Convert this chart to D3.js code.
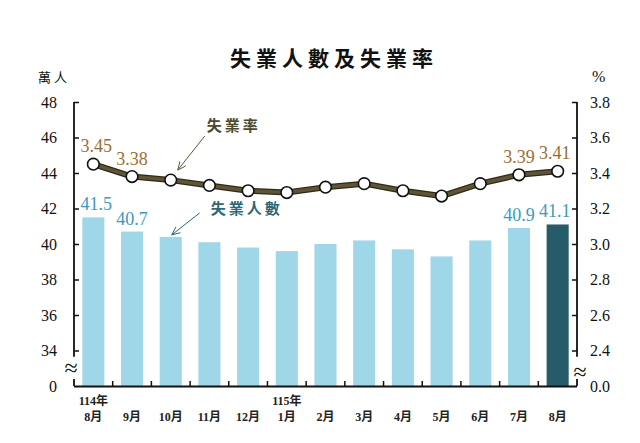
<!DOCTYPE html>
<html><head><meta charset="utf-8">
<script src="https://cdn.jsdelivr.net/npm/d3@7"></script>
<style>
html,body{margin:0;padding:0;background:#fff;}
svg{display:block;}
.sf{font-family:"Liberation Serif","Times New Roman","DejaVu Serif","Noto Sans CJK TC",serif;}
.cj{font-family:"Noto Sans CJK TC","Noto Sans CJK SC",sans-serif;}
</style></head>
<body>
<svg id="chart" width="640" height="443"></svg>
<script>
// ---- data ----
const months = ["8月","9月","10月","11月","12月","1月","2月","3月","4月","5月","6月","7月","8月"];
const years  = ["114年","","","","","115年","","","","","","",""];
const unemployed = [41.5,40.7,40.4,40.1,39.8,39.6,40.0,40.2,39.7,39.3,40.2,40.9,41.1];
const rate = [3.45,3.38,3.36,3.33,3.30,3.29,3.32,3.34,3.30,3.27,3.34,3.39,3.41];
const labeledIdx = [0,1,11,12];
const leftTicks = [32,34,36,38,40,42,44,46,48];
const leftTickLabels = ["0","34","36","38","40","42","44","46","48"];
const rightTicks = [2.2,2.4,2.6,2.8,3.0,3.2,3.4,3.6,3.8];
const rightTickLabels = ["0.0","2.4","2.6","2.8","3.0","3.2","3.4","3.6","3.8"];

const svg = d3.select("#chart");
const L = 74, R = 577, T = 102, B = 386;

const x = d3.scaleBand().domain(d3.range(months.length)).range([L, R]).paddingInner(0.43).paddingOuter(0.215);
const yL = d3.scaleLinear().domain([32,48]).range([B, T]);
const yR = d3.scaleLinear().domain([2.2,3.8]).range([B, T]);
const xc = i => x(i) + x.bandwidth()/2;
const nudge = i => i === 0 ? 3 : (i === months.length - 1 ? -3 : 0);

// title
svg.append("text").attr("class","cj").attr("x", 334).attr("y", 66).attr("text-anchor","middle")
  .attr("font-weight","bold").attr("font-size", 21)
  .attr("letter-spacing", 5).attr("fill","#111").text("失業人數及失業率");

// units
svg.append("text").attr("class","cj").attr("x", 38).attr("y", 82).attr("font-size", 13)
  .attr("letter-spacing", 3).attr("fill","#111").text("萬人");
svg.append("text").attr("class","sf").attr("x", 592).attr("y", 82).attr("font-size", 16)
  .attr("fill","#111").text("%");

// bars
svg.append("g").selectAll("rect").data(unemployed).join("rect")
  .attr("x", (d,i) => x(i)).attr("width", x.bandwidth())
  .attr("y", d => yL(d)).attr("height", d => B - yL(d))
  .attr("fill", (d,i) => i === unemployed.length-1 ? "#265b69" : "#9fd6e8");

// left axis
const axL = svg.append("g").attr("transform", `translate(${L},0)`)
  .call(d3.axisLeft(yL).tickValues(leftTicks).tickSizeInner(-5).tickSizeOuter(0).tickPadding(17)
    .tickFormat((d,i) => leftTickLabels[i]));
axL.attr("font-family", null).attr("font-size", null);
axL.select(".domain").remove();
axL.selectAll("line").attr("stroke","#111").attr("stroke-width",1.5);
axL.selectAll("text").attr("class","sf").attr("font-size", 16).attr("fill","#111");
axL.selectAll(".tick").filter(d => d === 32).select("line").remove();

// right axis
const axR = svg.append("g").attr("transform", `translate(${R},0)`)
  .call(d3.axisRight(yR).tickValues(rightTicks).tickSizeInner(-5).tickSizeOuter(0).tickPadding(13)
    .tickFormat((d,i) => rightTickLabels[i]));
axR.attr("font-family", null).attr("font-size", null);
axR.select(".domain").remove();
axR.selectAll("line").attr("stroke","#111").attr("stroke-width",1.5);
axR.selectAll("text").attr("class","sf").attr("font-size", 16).attr("fill","#111");
axR.selectAll(".tick").filter(d => Math.abs(d-2.2) < 1e-9).select("line").remove();

// axis lines with breaks
[[L, yL(48), yL(33.65)], [L, yL(32.4), B], [R, yL(48), yL(33.65)], [R, yL(32.4), B]].forEach(s => {
  svg.append("line").attr("x1", s[0]).attr("x2", s[0]).attr("y1", s[1]).attr("y2", s[2])
    .attr("stroke","#111").attr("stroke-width",1.8);
});
svg.append("text").attr("class","sf").attr("x", L-3).attr("y", yL(33)+8).attr("text-anchor","middle")
  .attr("font-size", 24).attr("fill","#111").text("≈");
svg.append("text").attr("class","sf").attr("x", R+3).attr("y", yL(32.8)+8).attr("text-anchor","middle")
  .attr("font-size", 24).attr("fill","#111").text("≈");

// x axis
svg.append("line").attr("x1", L).attr("x2", R).attr("y1", B+0.5).attr("y2", B+0.5)
  .attr("stroke","#111").attr("stroke-width",2.2);
svg.append("g").selectAll("line").data(d3.range(1, months.length)).join("line")
  .attr("x1", i => x(i) - x.step()*0.215).attr("x2", i => x(i) - x.step()*0.215)
  .attr("y1", B).attr("y2", B-5).attr("stroke","#111").attr("stroke-width",1.5);

const xl = svg.append("g").attr("class","sf").attr("font-size", 12).attr("font-weight","bold")
  .attr("fill","#222").attr("text-anchor","middle");
xl.selectAll("text.yr").data(years).join("text").attr("class","yr")
  .attr("x", (d,i) => xc(i)).attr("y", 405).text(d => d);
xl.selectAll("text.mo").data(months).join("text").attr("class","mo")
  .attr("x", (d,i) => xc(i)).attr("y", 421).text(d => d);

// rate line
const line = d3.line().x((d,i) => xc(i)).y(d => yR(d));
svg.append("path").datum(rate).attr("d", line).attr("fill","none")
  .attr("stroke","#2f2b19").attr("stroke-width",6).attr("stroke-linejoin","round");
svg.append("path").datum(rate).attr("d", line).attr("fill","none")
  .attr("stroke","#5d5536").attr("stroke-width",3.5).attr("stroke-linejoin","round");
svg.append("g").selectAll("circle").data(rate).join("circle")
  .attr("cx", (d,i) => xc(i)).attr("cy", d => yR(d)).attr("r", 5.8)
  .attr("fill","#fff").attr("stroke","#111").attr("stroke-width",1.6);

// value labels
svg.append("g").selectAll("text").data(labeledIdx).join("text").attr("class","sf")
  .attr("x", i => xc(i) + nudge(i)).attr("y", i => yR(rate[i]) - 12).attr("text-anchor","middle")
  .attr("font-size", 18).attr("fill","#9a6e32")
  .text(i => rate[i].toFixed(2));
svg.append("g").selectAll("text").data(labeledIdx).join("text").attr("class","sf")
  .attr("x", i => xc(i) + nudge(i)).attr("y", i => yL(unemployed[i]) - 7).attr("text-anchor","middle")
  .attr("font-size", 18).attr("fill","#3b9ac0")
  .text(i => unemployed[i].toFixed(1));

// annotations
function arrow(x1, y1, x2, y2, color) {
  svg.append("line").attr("x1", x1).attr("y1", y1).attr("x2", x2).attr("y2", y2)
    .attr("stroke", color).attr("stroke-width", 1);
  const a = Math.atan2(y2 - y1, x2 - x1), h = 9, w = 0.42;
  const p = [[x2 - h*Math.cos(a - w), y2 - h*Math.sin(a - w)], [x2, y2], [x2 - h*Math.cos(a + w), y2 - h*Math.sin(a + w)]];
  svg.append("path").attr("d", d3.line()(p)).attr("fill","none").attr("stroke", color).attr("stroke-width", 1);
}
const tipR = [xc(2) + 7, yR(rate[2]) - 10];
arrow(tipR[0] + 27, tipR[1] - 34, tipR[0], tipR[1], "#5d5536");
svg.append("text").attr("class","cj").attr("x", tipR[0] + 29).attr("y", tipR[1] - 39)
  .attr("font-weight","bold").attr("font-size", 15).attr("letter-spacing", 3)
  .attr("fill","#4d4a2a").text("失業率");
const tipB = [xc(2) + 1, yL(unemployed[2]) - 2];
arrow(tipB[0] + 28, tipB[1] - 22, tipB[0], tipB[1], "#2a6878");
svg.append("text").attr("class","cj").attr("x", tipB[0] + 39).attr("y", tipB[1] - 21)
  .attr("font-weight","bold").attr("font-size", 15).attr("letter-spacing", 3)
  .attr("fill","#2a6878").text("失業人數");
</script>
</body></html>
